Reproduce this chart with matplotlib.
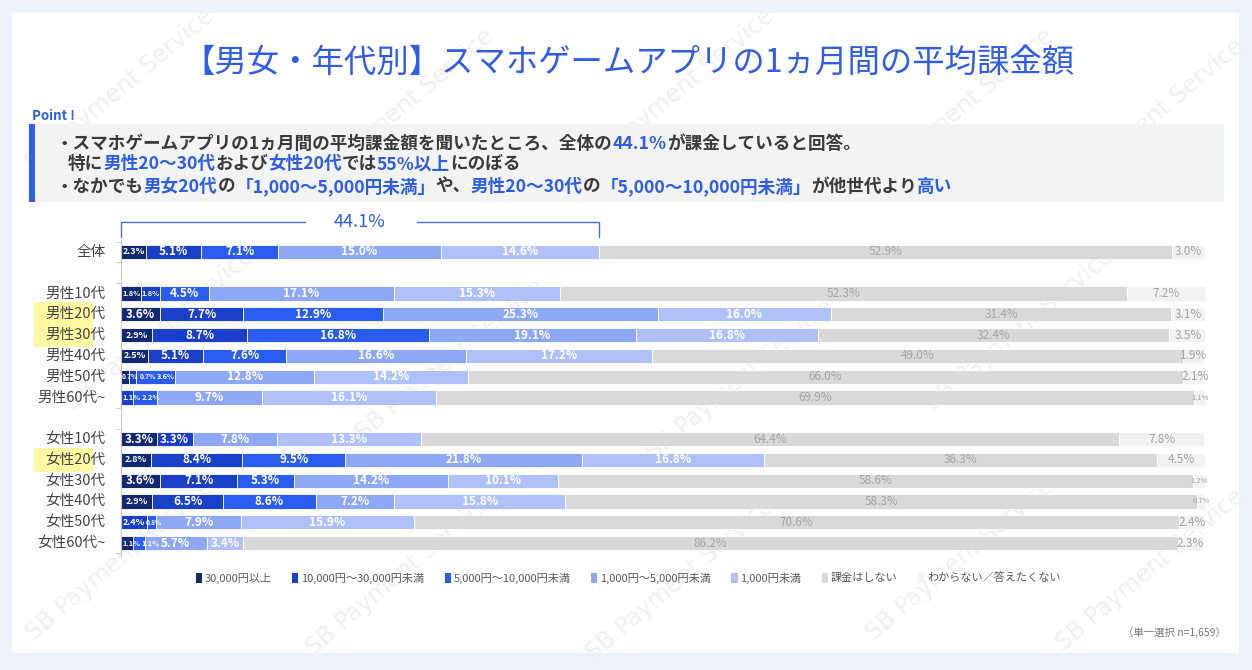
import numpy as np
import matplotlib
matplotlib.use("Agg")
import matplotlib.pyplot as plt
from matplotlib.patches import Rectangle, Patch

plt.rcParams['font.family'] = ['Noto Sans CJK JP', 'DejaVu Sans']

# data (percent)
groups = ["全体", "男性10代", "男性20代", "男性30代", "男性40代", "男性50代", "男性60代~",
          "女性10代", "女性20代", "女性30代", "女性40代", "女性50代", "女性60代~"]
row_pos = [0, 2, 3, 4, 5, 6, 7, 9, 10, 11, 12, 13, 14]

s_30000 = [2.3, 1.8, 3.6, 2.9, 2.5, 0.7, 0.0, 3.3, 2.8, 3.6, 2.9, 0.0, 1.1]
s_10000 = [5.1, 1.8, 7.7, 8.7, 5.1, 0.7, 1.1, 3.3, 8.4, 7.1, 6.5, 2.4, 0.0]
s_5000 = [7.1, 4.5, 12.9, 16.8, 7.6, 3.6, 2.2, 0.0, 9.5, 5.3, 8.6, 0.8, 1.1]
s_1000 = [15.0, 17.1, 25.3, 19.1, 16.6, 12.8, 9.7, 7.8, 21.8, 14.2, 7.2, 7.9, 5.7]
s_under = [14.6, 15.3, 16.0, 16.8, 17.2, 14.2, 16.1, 13.3, 16.8, 10.1, 15.8, 15.9, 3.4]
s_none = [52.9, 52.3, 31.4, 32.4, 49.0, 66.0, 69.9, 64.4, 36.3, 58.6, 58.3, 70.6, 86.2]
s_dk = [3.0, 7.2, 3.1, 3.5, 1.9, 2.1, 1.1, 7.8, 4.5, 1.2, 0.7, 2.4, 2.3]

series_names = ["30,000円以上", "10,000円～30,000円未満", "5,000円～10,000円未満",
                "1,000円～5,000円未満", "1,000円未満", "課金はしない", "わからない／答えたくない"]
colors = ["#13296f", "#1a3fc8", "#2b5cf0", "#8fa8f5", "#afc1f8", "#d9d9d9", "#f2f2f2"]
label_colors = ["white"] * 5 + ["#a3a3a3", "#a3a3a3"]

total_paying = 44.1

W, H = 1252, 670
BLUE = "#2f5ce8"
DARK = "#3a3a3a"


def fx(x):
    return x / W


def fy(y):
    return 1 - y / H


fig = plt.figure(figsize=(W / 100, H / 100), dpi=100)
fig.patch.set_facecolor("#edf1f8")

# white card
fig.add_artist(Rectangle((fx(12), fy(653)), fx(1239) - fx(12), fy(13) - fy(653),
                         transform=fig.transFigure, facecolor="white", edgecolor="none", zorder=-5))

# watermark
for wx, wy in [(120, 90), (400, 110), (680, 90), (960, 110), (1150, 120),
               (160, 330), (450, 360), (740, 380), (1020, 330),
               (120, 560), (400, 575), (680, 580), (960, 560), (1150, 570)]:
    fig.text(fx(wx), fy(wy), "SB Payment Service", fontsize=17, color="#eef0f4",
             rotation=40, ha="center", va="center", zorder=-4, family="DejaVu Sans")

# title
fig.text(fx(628), fy(63), "【男女・年代別】スマホゲームアプリの1ヵ月間の平均課金額",
         fontsize=23.3, color=BLUE, ha="center", va="center")

# point box
fig.text(fx(32), fy(116), "Point !", fontsize=9.5, color=BLUE, fontweight="bold",
         ha="left", va="center")
fig.add_artist(Rectangle((fx(29), fy(202)), fx(1224) - fx(29), fy(124) - fy(202),
                         transform=fig.transFigure, facecolor="#f2f3f3", edgecolor="none", zorder=-3))
fig.add_artist(Rectangle((fx(29), fy(202)), fx(35) - fx(29), fy(124) - fy(202),
                         transform=fig.transFigure, facecolor=BLUE, edgecolor="none", zorder=-2))

renderer = fig.canvas.get_renderer()


def rich_line(x, y, pieces, size=12.7):
    for s, c in pieces:
        t = fig.text(fx(x), fy(y), s, color=c, fontsize=size, fontweight="bold",
                     ha="left", va="center")
        x += t.get_window_extent(renderer).width


rich_line(56, 144, [("・スマホゲームアプリの1ヵ月間の平均課金額を聞いたところ、全体の", DARK),
                    ("44.1%", BLUE), ("が課金していると回答。", DARK)])
rich_line(68, 164, [("特に", DARK), ("男性20～30代", BLUE), ("および", DARK), ("女性20代", BLUE),
                    ("では", DARK), ("55%以上", BLUE), ("にのぼる", DARK)])
rich_line(56, 187, [("・なかでも", DARK), ("男女20代", BLUE), ("の", DARK),
                    ("「1,000～5,000円未満」", BLUE), ("や、", DARK), ("男性20～30代", BLUE),
                    ("の", DARK), ("「5,000～10,000円未満」", BLUE), ("が他世代より", DARK),
                    ("高い", BLUE)])

# highlight boxes behind labels
for y0, y1 in [(302, 347), (448, 472)]:
    fig.add_artist(Rectangle((fx(34), fy(y1)), fx(93) - fx(34), fy(y0) - fy(y1),
                             transform=fig.transFigure, facecolor="#fdf9a3", edgecolor="none", zorder=-1))

# chart axes
ax = fig.add_axes([fx(121), fy(555.5), fx(1205) - fx(121), fy(239.5) - fy(555.5)])
ax.set_facecolor("none")
ax.set_xlim(0, 100)
ax.set_ylim(14.6, -0.6)
px_per_unit = (1205 - 121) / 100

data = [s_30000, s_10000, s_5000, s_1000, s_under, s_none, s_dk]
left = np.zeros(len(groups))
row_labels = {y: [] for y in row_pos}
for k, (vals, col, lcol) in enumerate(zip(data, colors, label_colors)):
    vals = np.array(vals)
    ax.barh(row_pos, vals, left=left, height=0.68, color=col, edgecolor="white", linewidth=0.6)
    for y, l, v in zip(row_pos, left, vals):
        if v <= 0:
            continue
        if lcol == "white":
            if v < 1.0:
                fs = 4.8
            elif v < 2.3:
                fs = 5.3
            elif v < 3.0:
                fs = 6.5
            else:
                fs = 8.5
            # crowded rows: a segment right after tiny ones stays small too
            if k < 3 and 0 < l < 2.0 and fs > 6.5:
                fs = 5.3
        else:
            fs = 5.5 if v < 1.5 else 8.5
        t = ax.text(l + v / 2, y, f"{v:.1f}%", ha="center", va="center", fontsize=fs,
                    color=lcol, fontweight="bold" if lcol == "white" else "normal")
        if k < 5:
            row_labels[y].append(t)
    left += vals

# push small labels apart so they sit side by side
x_start = ax.transData.transform((0, 0))[0]
for y, texts in row_labels.items():
    prev = x_start
    for t in texts:
        bb = t.get_window_extent(renderer)
        if bb.x0 < prev + 1:
            shift = prev + 1 - bb.x0
            t.set_x(t.get_position()[0] + shift / px_per_unit)
            prev = bb.x1 + shift
        else:
            prev = bb.x1

for y, g in zip(row_pos, groups):
    ax.text(-1.4, y, g, ha="right", va="center", fontsize=10.5, color="#444444", clip_on=False)

# 44.1% bracket
bk_y, bk_end = -1.44, -0.72
ax.plot([0, 0, 17.0], [bk_end, bk_y, bk_y], color="#4a6fd6", lw=1, clip_on=False)
ax.plot([27.3, total_paying, total_paying], [bk_y, bk_y, bk_end], color="#4a6fd6", lw=1, clip_on=False)
ax.text(total_paying / 2, bk_y, f"{total_paying}%", ha="center", va="center",
        fontsize=13, color=BLUE, clip_on=False)

for s in ["top", "right", "bottom"]:
    ax.spines[s].set_visible(False)
ax.spines["left"].set_color("#c8c8c8")
ax.set_xticks([])
ax.set_yticks([])
ax.set_yticks([-0.5, 0.5, 1.5, 7.5, 8.5, 14.5], minor=True)
ax.tick_params(axis="y", which="minor", length=4, color="#c8c8c8")

# legend
handles = [Patch(facecolor=c, edgecolor="none") for c in colors]
leg = fig.legend(handles, series_names, loc="center", bbox_to_anchor=(fx(628), fy(578)),
                 ncol=7, frameon=False, fontsize=8, handlelength=0.55, handleheight=1.0,
                 handletextpad=0.25, columnspacing=1.85)
for t in leg.get_texts():
    t.set_color("#595959")

fig.text(fx(1226), fy(632), "（単一選択 n=1,659）", fontsize=7.5, color="#777777",
         ha="right", va="center")

fig.savefig("out.png", dpi=100, facecolor=fig.get_facecolor())
